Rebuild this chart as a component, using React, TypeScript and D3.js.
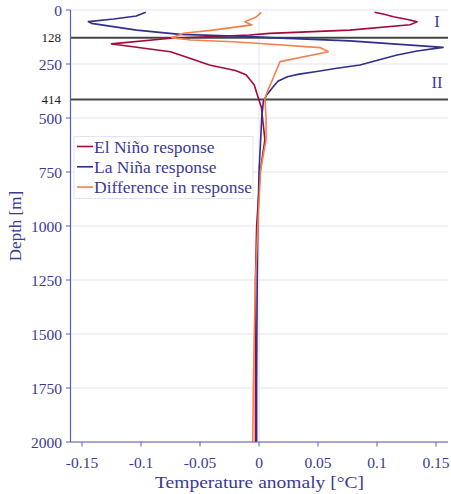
import React from "react";
import * as d3 from "d3";

const elNinoDepth = [10, 20, 31, 45, 55, 68, 93, 108, 116, 131, 157, 162, 193, 225, 255, 280, 300, 347, 400, 450, 500, 600, 750, 1000, 1250, 1500, 1750, 2000];
const elNinoValue = [0.098, 0.106, 0.114, 0.127, 0.134, 0.128, 0.077, 0.009, -0.008, -0.075, -0.125, -0.118, -0.075, -0.058, -0.042, -0.02, -0.011, -0.004, -0.001, 0.002, 0.003, 0.005, 0.001, -0.002, -0.003, -0.003, -0.003, -0.003];

const laNinaDepth = [10, 28, 42, 54, 62, 93, 113, 123, 128, 143, 173, 190, 208, 230, 255, 270, 285, 297, 309, 330, 355, 393, 424, 500, 600, 750, 1000, 1250, 1500, 1750, 2000];
const laNinaValue = [-0.096, -0.104, -0.123, -0.1446, -0.142, -0.1037, -0.067, -0.0076, 0.009, 0.077, 0.156, 0.134, 0.117, 0.102, 0.0856, 0.066, 0.049, 0.034, 0.024, 0.016, 0.012, 0.0065, 0.0037, 0.0023, 0.0014, 0.0, -0.001, -0.0015, -0.0018, -0.002, -0.002];

const diffDepth = [11, 31, 54, 69, 93, 108, 128, 139, 147, 155, 174, 193, 239, 332, 370, 409, 500, 600, 740, 1000, 1250, 1500, 1750, 2000];
const diffValue = [0.002, -0.002, -0.012, -0.006, -0.039, -0.064, -0.074, -0.058, -0.022, 0.001, 0.0517, 0.0588, 0.0178, 0.0107, 0.0076, 0.005, 0.006, 0.006, 0.0014, -0.001, -0.003, -0.004, -0.0048, -0.0053];

const xTicks = [-0.15, -0.1, -0.05, 0, 0.05, 0.1, 0.15];
const yTicks = [0, 250, 500, 750, 1000, 1250, 1500, 1750, 2000];
const layerDepths = [128, 414];
const layerNames = ["I", "II"];
const layerLabelDepths = [55, 335];

const seriesNames = ["El Niño response", "La Niña response", "Difference in response"];
const seriesColors = ["#a3093a", "#2f2f8c", "#f5804f"];

const W = 451;
const H = 494;
const left = 70.5;
const right = 448;
const top = 10;
const bottom = 442;

export default function App() {
  const x = d3.scaleLinear().domain([-0.16, 0.16]).range([70.2, 447.8]);
  const y = d3.scaleLinear().domain([0, 2000]).range([top, bottom]);
  const line = d3
    .line<[number, number]>()
    .x((d) => x(d[1]))
    .y((d) => y(d[0]));

  const series = [
    d3.zip(elNinoDepth, elNinoValue) as [number, number][],
    d3.zip(laNinaDepth, laNinaValue) as [number, number][],
    d3.zip(diffDepth, diffValue) as [number, number][],
  ];

  const txt = "#3a3a98";
  const axisCol = "#5c5cb8";
  const grid = "#e2e2f2";
  const font = "'Liberation Serif', 'Times New Roman', serif";

  return (
    <svg width={W} height={H} style={{ position: "absolute", left: 0, top: 0, background: "#fff" }} fontFamily={font}>
      {yTicks.map((t) => (
        <line key={"gy" + t} x1={left} x2={right} y1={y(t)} y2={y(t)} stroke={grid} strokeWidth={1} />
      ))}
      <line x1={x(0)} x2={x(0)} y1={top} y2={bottom} stroke={grid} strokeWidth={1} />

      {layerDepths.map((d) => (
        <line key={"l" + d} x1={left} x2={right} y1={y(d)} y2={y(d)} stroke="#444" strokeWidth={2} />
      ))}
      {layerNames.map((n, i) => (
        <text key={n} x={437} y={y(layerLabelDepths[i])} textAnchor="middle" dominantBaseline="central" fontSize={16.5} fill={txt}>
          {n}
        </text>
      ))}

      {series.map((s, i) => (
        <path key={i} d={line(s) || ""} fill="none" stroke={seriesColors[i]} strokeWidth={1.6} strokeLinejoin="round" />
      ))}

      <line x1={left} x2={left} y1={top} y2={bottom} stroke={axisCol} strokeWidth={1.2} />
      <line x1={left} x2={right} y1={bottom} y2={bottom} stroke={axisCol} strokeWidth={1.2} />
      {yTicks.map((t) => (
        <g key={"ty" + t}>
          <line x1={left - 4.5} x2={left} y1={y(t)} y2={y(t)} stroke={axisCol} strokeWidth={1} />
          <text x={62} y={y(t)} textAnchor="end" dominantBaseline="central" fontSize={15.5} fill={txt}>
            {t}
          </text>
        </g>
      ))}
      {layerDepths.map((d) => (
        <text key={"tl" + d} x={61} y={y(d)} textAnchor="end" dominantBaseline="central" fontSize={13} fill="#222">
          {d}
        </text>
      ))}
      {xTicks.map((t) => (
        <g key={"tx" + t}>
          <line x1={x(t)} x2={x(t)} y1={bottom} y2={bottom + 4.5} stroke={axisCol} strokeWidth={1} />
          <text x={x(t)} y={462} textAnchor="middle" dominantBaseline="central" fontSize={15.5} fill={txt}>
            {String(t)}
          </text>
        </g>
      ))}
      <text x={259.5} y={482} textAnchor="middle" dominantBaseline="central" fontSize={17} fill={txt} textLength={209} lengthAdjust="spacingAndGlyphs">
        Temperature anomaly [°C]
      </text>
      <text transform={`translate(15,${(top + bottom) / 2}) rotate(-90)`} textAnchor="middle" dominantBaseline="central" fontSize={17} fill={txt}>
        Depth [m]
      </text>

      <rect x={74} y={136.5} width={179} height={62} fill="#fff" stroke="#e4e4f0" strokeWidth={1} />
      {seriesNames.map((n, i) => (
        <g key={n}>
          <line x1={77} x2={93} y1={146.5 + i * 20.3} y2={146.5 + i * 20.3} stroke={seriesColors[i]} strokeWidth={1.6} />
          <text x={94} y={146.5 + i * 20.3} dominantBaseline="central" fontSize={17.5} fill={txt}>
            {n}
          </text>
        </g>
      ))}
    </svg>
  );
}
